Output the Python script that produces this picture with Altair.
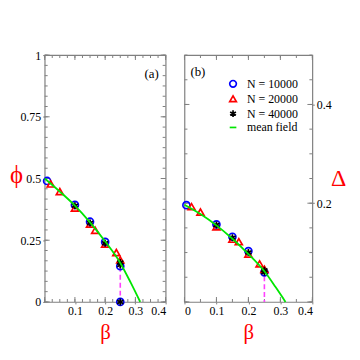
import altair as alt
import pandas as pd

# ---------------- data ----------------
SERIES = ["N = 10000", "N = 20000", "N = 40000", "mean field"]
COLORS = ["#0000ff", "#ff0000", "#000000", "#00e600"]
STAR = "M0,-1L0,1M-0.87,-0.5L0.87,0.5M-0.87,0.5L0.87,-0.5"
SHAPES = ["circle", "triangle-up", STAR, "stroke"]
WIDTHS = [1.7, 1.7, 2.8, 2.0]

# panel (a): order parameter phi vs beta
a_beta_10k = [0.008, 0.1, 0.15, 0.2, 0.25, 0.25]
a_phi_10k = [0.49, 0.393, 0.325, 0.243, 0.145, 0.0]
a_beta_20k = [0.02, 0.05, 0.1, 0.15, 0.167, 0.2, 0.237, 0.25]
a_phi_20k = [0.478, 0.447, 0.38, 0.315, 0.29, 0.234, 0.2, 0.17]
a_beta_40k = [0.1, 0.15, 0.2, 0.25, 0.25, 0.25]
a_phi_40k = [0.39, 0.32, 0.238, 0.16, 0.15, 0.0]
a_mf_beta = [0.0, 0.05, 0.1, 0.15, 0.2, 0.25, 0.285, 0.316]
a_mf_phi = [0.5, 0.447, 0.39, 0.322, 0.245, 0.158, 0.077, 0.0]
a_dash_beta = [0.25]
a_dash_top = [0.142]

# panel (b): Delta vs beta
b_beta_10k = [0.006, 0.1, 0.15, 0.2, 0.25]
b_del_10k = [0.196, 0.157, 0.132, 0.103, 0.06]
b_beta_20k = [0.022, 0.05, 0.1, 0.15, 0.17, 0.2, 0.235, 0.25]
b_del_20k = [0.193, 0.182, 0.152, 0.127, 0.122, 0.097, 0.077, 0.066]
b_beta_40k = [0.1, 0.15, 0.2, 0.25, 0.25]
b_del_40k = [0.156, 0.13, 0.1, 0.064, 0.06]
b_mf_beta = [0.0, 0.05, 0.1, 0.15, 0.2, 0.25, 0.285, 0.316]
b_mf_del = [0.197, 0.178, 0.155, 0.128, 0.097, 0.062, 0.03, 0.0]
b_dash_beta = [0.25]
b_dash_top = [0.052]

# tick positions
a_xmaj = [0.0, 0.1, 0.2, 0.3, 0.4]
a_xmin = [i * 0.025 for i in range(17)]
a_ymaj = [0.0, 0.25, 0.5, 0.75, 1.0]
a_ymin = [i / 24 for i in range(25)]
b_xmaj = [0.0, 0.1, 0.2, 0.3, 0.4]
b_xmin = [i * 0.05 for i in range(9)]
b_ymaj = [0.0, 0.2, 0.4]
b_ymin = [i * 0.05 for i in range(11)]

GRAY = "#808080"
FONT = "Liberation Serif"
RED = "#ff0000"


def points_df(b10, v10, b20, v20, b40, v40):
    rows = []
    for name, bs, vs in [(SERIES[0], b10, v10), (SERIES[1], b20, v20), (SERIES[2], b40, v40)]:
        for b, v in zip(bs, vs):
            rows.append({"beta": b, "val": v, "series": name})
    return pd.DataFrame(rows)


def panel(pts, mf_b, mf_v, dash_b, dash_v, tag, tag_b, tag_v, W, H, ydom,
          xlab_vals, ylab_axis, xmaj, xmin, ymaj, ymin, legend, key):
    xs = alt.Scale(domain=[0, 0.4], nice=False, zero=False)
    ys = alt.Scale(domain=ydom, nice=False, zero=False)
    xlab = alt.Axis(orient="bottom", values=xlab_vals, labelExpr="'' + datum.value",
                    tickSize=2, tickColor=GRAY, domain=False, grid=False, labelPadding=2,
                    title="β", titleColor=RED, titleFontSize=21, titleY=31,
                    titleBaseline="middle", titleFontWeight="normal")

    def X(f):
        return alt.X(f, type="quantitative", scale=xs, axis=xlab)

    def Y(f):
        return alt.Y(f, type="quantitative", scale=ys, axis=ylab_axis)

    curve = pd.DataFrame({"beta": mf_b, "val": mf_v})
    dash = pd.DataFrame({"beta": dash_b, "val": dash_v, "zero": [0.0] * len(dash_b)})
    tagdf = pd.DataFrame({"beta": [tag_b], "val": [tag_v], "text": [tag]})

    # inward tick marks on all four sides of the frame
    ticks = []
    for xv, yv, size in [(xmin, ymin, 3), (xmaj, ymaj, 5)]:
        for side, edge, off in [("b", ydom[0], -size / 2), ("t", ydom[1], size / 2)]:
            df = pd.DataFrame({"beta": xv, "val": [edge] * len(xv),
                               "id": [f"{key}{side}{size}"] * len(xv)})
            ticks.append(alt.Chart(df).mark_tick(orient="vertical", size=size, thickness=1,
                                                 color=GRAY, opacity=1, yOffset=off).encode(
                x=X("beta"), y=Y("val")))
        for side, edge, off in [("l", 0.0, size / 2), ("r", 0.4, -size / 2)]:
            df = pd.DataFrame({"beta": [edge] * len(yv), "val": yv,
                               "id": [f"{key}{side}{size}"] * len(yv)})
            ticks.append(alt.Chart(df).mark_tick(orient="horizontal", size=size, thickness=1,
                                                 color=GRAY, opacity=1, xOffset=off).encode(
                x=X("beta"), y=Y("val")))

    rule = alt.Chart(dash).mark_rule(color="#ff40ff", strokeDash=[5, 3], strokeWidth=1.6).encode(
        x=X("beta"), y=Y("val"), y2="zero:Q",
    )
    if legend:
        lg = alt.Legend(title=None, orient="none", legendX=43, legendY=23,
                        labelFont=FONT, labelFontSize=12, labelColor="black",
                        symbolSize=45, symbolStrokeWidth=1.8, labelOffset=8,
                        rowPadding=1, padding=0)
    else:
        lg = None
    pts_layer = alt.Chart(pts).mark_point(filled=False, size=50, opacity=1).encode(
        x=X("beta"), y=Y("val"),
        color=alt.Color("series:N", scale=alt.Scale(domain=SERIES, range=COLORS), legend=lg),
        shape=alt.Shape("series:N", scale=alt.Scale(domain=SERIES, range=SHAPES), legend=lg),
        strokeWidth=alt.StrokeWidth("series:N", scale=alt.Scale(domain=SERIES, range=WIDTHS),
                                    legend=None),
    )
    line = alt.Chart(curve).mark_line(color=COLORS[3], strokeWidth=1.8,
                                      interpolate="monotone").encode(x=X("beta"), y=Y("val"))
    txt = alt.Chart(tagdf).mark_text(font=FONT, fontSize=13, color="black",
                                     align="center", baseline="middle").encode(
        x=X("beta"), y=Y("val"), text="text:N",
    )
    return alt.layer(*ticks, rule, pts_layer, line, txt).properties(width=W, height=H)


H = 249
WA = 122
WB = 129

a_yaxis = alt.Axis(orient="left", values=[0, 0.25, 0.5, 0.75, 1], labelExpr="'' + datum.value",
                   tickSize=2, tickColor=GRAY, domain=False, grid=False, labelPadding=2,
                   title="ϕ", titleColor=RED, titleFontSize=25, titleAngle=0,
                   titleX=-29, titleY=121, titleAlign="center", titleBaseline="middle",
                   titleFontWeight="normal")
b_yaxis = alt.Axis(orient="right", values=[0.2, 0.4], labelExpr="'' + datum.value",
                   tickSize=2, tickColor=GRAY, domain=False, grid=False, labelPadding=2,
                   title="Δ", titleColor=RED, titleFontSize=24, titleAngle=0,
                   titleX=26, titleY=125, titleAlign="center", titleBaseline="middle",
                   titleFontWeight="normal")

pa = panel(points_df(a_beta_10k, a_phi_10k, a_beta_20k, a_phi_20k, a_beta_40k, a_phi_40k),
           a_mf_beta, a_mf_phi, a_dash_beta, a_dash_top, "(a)", 0.354, 0.924, WA, H, [0, 1],
           [0.1, 0.2, 0.3, 0.4], a_yaxis, a_xmaj, a_xmin, a_ymaj, a_ymin, False, "a")
pb = panel(points_df(b_beta_10k, b_del_10k, b_beta_20k, b_del_20k, b_beta_40k, b_del_40k),
           b_mf_beta, b_mf_del, b_dash_beta, b_dash_top, "(b)", 0.042, 0.465, WB, H, [0, 0.5],
           [0, 0.1, 0.2, 0.3, 0.4], b_yaxis, b_xmaj, b_xmin, b_ymaj, b_ymin, True, "b")

chart = alt.hconcat(pa, pb, spacing=19, bounds="flush").resolve_scale(
    x="independent", y="independent", color="independent", shape="independent",
    strokeWidth="independent"
).configure_view(stroke=GRAY, strokeWidth=1.2).configure_axis(
    labelFont=FONT, labelFontSize=12, labelColor="black", titleFont=FONT
).properties(padding={"left": 0, "top": 39, "right": 5, "bottom": 5}, background="white")

chart.save("out.html", embed_options={"renderer": "svg", "actions": False})
